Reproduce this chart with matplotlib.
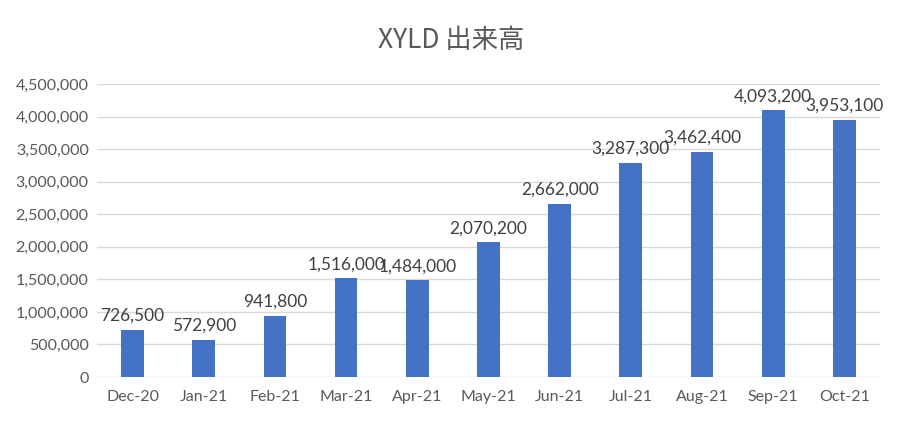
import matplotlib
matplotlib.use("Agg")
import matplotlib.pyplot as plt
from matplotlib.ticker import FuncFormatter

months = ["Dec-20", "Jan-21", "Feb-21", "Mar-21", "Apr-21", "May-21",
          "Jun-21", "Jul-21", "Aug-21", "Sep-21", "Oct-21"]
volume = [726500, 572900, 941800, 1516000, 1484000, 2070200,
          2662000, 3287300, 3462400, 4093200, 3953100]
yticks = list(range(0, 4500001, 500000))

plt.rcParams['font.family'] = ['Lato', 'Noto Sans CJK JP', 'DejaVu Sans']
txt = '#595959'

fig = plt.figure(figsize=(9.03, 4.23), dpi=100)
ax = fig.add_axes([0.1074, 0.1087, 0.867, 0.6927])

x = range(len(months))
ax.bar(x, volume, width=0.32, color='#4472C4', zorder=3)

for i, v in zip(x, volume):
    ax.text(i, v + 90000, f"{v:,}", ha='center', va='bottom',
            fontsize=12.5, color='#404040', zorder=4)

ax.set_xlim(-0.5, len(months) - 0.5)
ax.set_ylim(0, 4500000)
ax.set_yticks(yticks)
ax.yaxis.set_major_formatter(FuncFormatter(lambda v, p: f"{int(v):,}"))
ax.set_xticks(list(x))
ax.set_xticklabels(months)
ax.grid(axis='y', color='#D9D9D9', linewidth=1, zorder=0)
for s in ax.spines.values():
    s.set_visible(False)
ax.tick_params(axis='both', length=0, labelsize=11.5, colors=txt)
ax.tick_params(axis='x', pad=9)
ax.tick_params(axis='y', pad=6)

fig.text(0.5, 0.905, "XYLD 出来高", ha='center', va='center',
         fontsize=19, color=txt, family=['Noto Sans CJK JP', 'DejaVu Sans'])

fig.savefig("out.png", dpi=100)
